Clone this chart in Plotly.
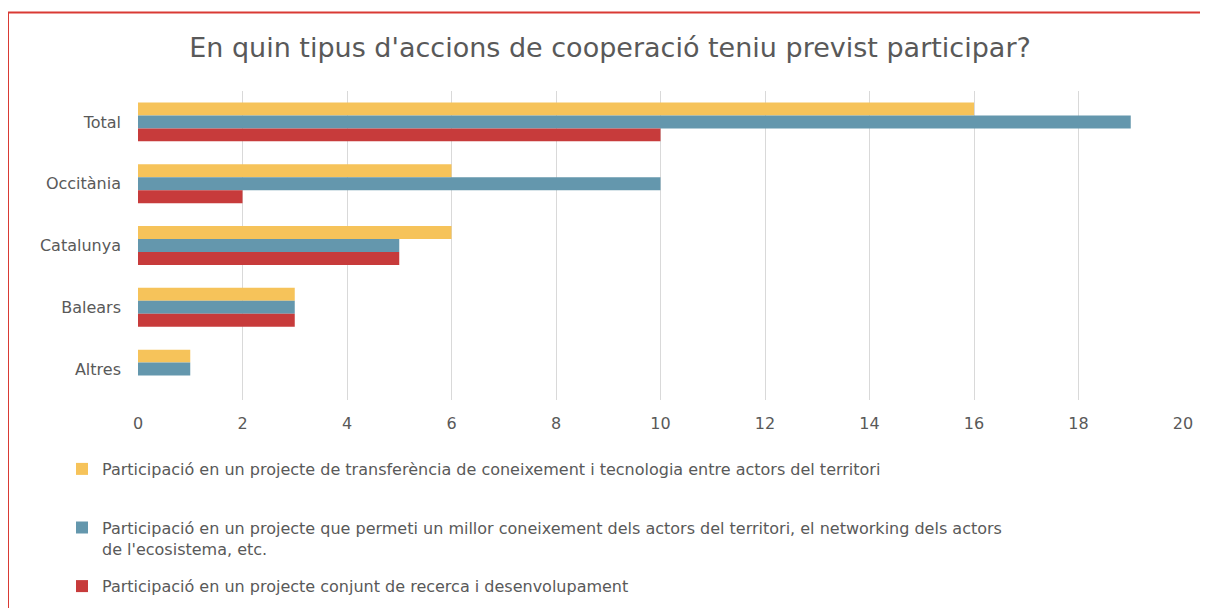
import plotly.graph_objects as go

categories = ["Total", "Occitània", "Catalunya", "Balears", "Altres"]
transferencia = [16, 6, 6, 3, 1]
networking = [19, 10, 5, 3, 1]
recerca = [10, 2, 5, 3, 0]

names = [
    "Participació en un projecte de transferència de coneixement i tecnologia entre actors del territori<br> ",
    "Participació en un projecte que permeti un millor coneixement dels actors del territori, el networking dels actors<br>de l'ecosistema, etc.",
    "Participació en un projecte conjunt de recerca i desenvolupament",
]
colors = ["#F6C35A", "#6497AD", "#C73B3B"]
series = [transferencia, networking, recerca]

FONT = "DejaVu Sans"
GREY = "#595959"

fig = go.Figure()
for i, (vals, nm, col) in enumerate(zip(series, names, colors)):
    fig.add_trace(go.Bar(
        y=categories, x=vals, name=nm, orientation="h",
        marker=dict(color=col, line=dict(width=0)),
        legendgroup=f"g{i}",
    ))

# page body adds an 8px offset; figure coordinates below are screen - 8
OFF = 8
W, H = 1200, 600
ml, mr, mt, mb = 138 - OFF, 25, 91 - OFF, 208
pw, ph = W - ml - mr, H - mt - mb

def px_x(sx):
    return (sx - OFF - ml) / pw

def px_y(sy):
    return (H - mb - (sy - OFF)) / ph

fig.update_layout(
    width=W, height=H,
    margin=dict(l=ml, r=mr, t=mt, b=mb, autoexpand=False),
    paper_bgcolor="white", plot_bgcolor="white",
    barmode="group", bargap=0.37, bargroupgap=0,
    font=dict(family=FONT, color=GREY, size=16),
    title=dict(
        text="En quin tipus d'accions de cooperació teniu previst participar?",
        x=(610 - OFF) / W, xanchor="center", y=1 - (48 - OFF) / H, yanchor="middle",
        font=dict(family=FONT, size=27, color=GREY),
    ),
    xaxis=dict(
        range=[0, 20], dtick=2, showgrid=True, gridcolor="#D9D9D9", gridwidth=1,
        zeroline=False, showline=False, ticks="", ticklabelstandoff=12,
        tickfont=dict(size=16, color=GREY),
    ),
    yaxis=dict(
        autorange="reversed", showgrid=False, zeroline=False, showline=False,
        ticks="", ticklabelstandoff=16, tickfont=dict(size=16, color=GREY),
    ),
    showlegend=True,
    legend=dict(
        orientation="v", x=px_x(62), xanchor="left",
        y=px_y(452), yanchor="top",
        font=dict(size=16, color=GREY), valign="top",
        tracegroupgap=14, itemwidth=30, traceorder="grouped",
        bgcolor="rgba(0,0,0,0)",
    ),
    shapes=[
        dict(type="line", xref="paper", yref="paper",
             x0=px_x(8), x1=px_x(1215), y0=px_y(12.5), y1=px_y(12.5),
             line=dict(color="#D93A34", width=2)),
        dict(type="line", xref="paper", yref="paper",
             x0=px_x(8), x1=px_x(8), y0=px_y(12.5), y1=px_y(615),
             line=dict(color="#D93A34", width=2)),
    ],
)

fig.write_html("out.html")
